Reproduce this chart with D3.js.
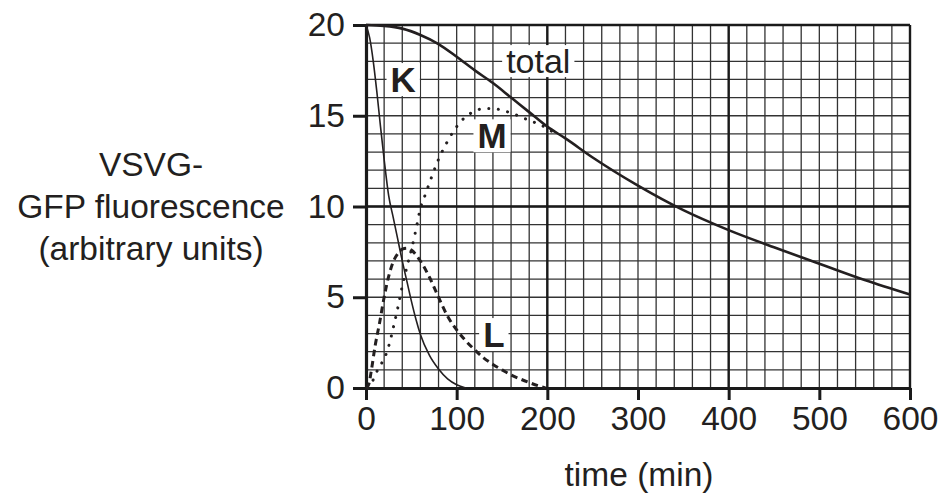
<!DOCTYPE html>
<meta charset="utf-8">
<style>
body { margin: 0; background: #fff; }
text { font-family: "Liberation Sans", Arial, sans-serif; fill: #231f20; }
.tick text { font-size: 33.5px; }
.label { font-weight: bold; font-size: 35px; }
</style>
<body>
<script src="https://cdn.jsdelivr.net/npm/d3@7"></script>
<script>

// values (time in min, fluorescence in arbitrary units)
var totalTime = [0, 20, 40, 60, 80, 100, 120, 140, 160, 180, 200, 220, 250, 300, 350, 400, 450, 500, 550, 600],
    totalVal  = [20, 19.95, 19.8, 19.45, 18.95, 18.25, 17.5, 16.8, 16.0, 15.2, 14.4, 13.75, 12.7, 11.15, 9.8, 8.7, 7.75, 6.85, 5.95, 5.15];

var kTime = [0, 4, 8, 12, 16, 20, 25, 30, 35, 40, 45, 50, 55, 60, 70, 80, 90, 100, 110],
    kVal  = [20, 19.3, 18.0, 16.3, 14.4, 12.6, 10.6, 9.4, 8.2, 7.0, 5.9, 4.8, 3.8, 2.95, 1.8, 1.05, 0.5, 0.18, 0];

var lTime = [0, 3, 6, 10, 15, 20, 25, 30, 35, 40, 45, 50, 55, 60, 70, 80, 90, 100, 110, 120, 130, 140, 150, 160, 170, 180, 190, 198],
    lVal  = [0, 0.2, 1.0, 2.3, 3.6, 5.0, 6.15, 6.95, 7.4, 7.65, 7.7, 7.6, 7.35, 7.0, 6.1, 5.0, 3.95, 3.2, 2.6, 2.1, 1.65, 1.3, 1.0, 0.72, 0.5, 0.3, 0.12, 0];

var mTime = [2, 5, 10, 15, 20, 25, 30, 35, 40, 45, 50, 55, 60, 65, 70, 80, 90, 100, 110, 120, 130, 140, 150, 160, 170, 180, 190, 200, 210],
    mVal  = [0, 0.15, 0.7, 1.2, 1.6, 2.3, 3.3, 4.4, 5.6, 6.65, 7.6, 8.7, 9.9, 10.6, 11.3, 12.6, 13.6, 14.4, 14.95, 15.25, 15.4, 15.4, 15.3, 15.15, 14.95, 14.75, 14.55, 14.3, 13.95];

var xTicks = [0, 100, 200, 300, 400, 500, 600],
    yTicks = [0, 5, 10, 15, 20],
    xMajor = [200, 400, 600],
    yMajor = [10, 20];

var curveLabels = [
  {text: "K", t: 41, v: 17.0},
  {text: "M", t: 139, v: 13.9},
  {text: "L", t: 141, v: 2.95}
];

var width = 944, height = 494;

var svg = d3.select("body").append("svg")
    .attr("width", width)
    .attr("height", height);

var x = d3.scaleLinear().domain([0, 600]).range([366, 910]),
    y = d3.scaleLinear().domain([0, 20]).range([388, 25]);

// minor grid
svg.append("g")
    .selectAll("line")
    .data(d3.range(20, 600, 20))
  .enter().append("line")
    .attr("x1", d => x(d)).attr("x2", d => x(d))
    .attr("y1", y(0)).attr("y2", y(20))
    .attr("stroke", "#333").attr("stroke-width", 1.3);

svg.append("g")
    .selectAll("line")
    .data(d3.range(1, 20, 1))
  .enter().append("line")
    .attr("x1", x(0)).attr("x2", x(600))
    .attr("y1", d => y(d)).attr("y2", d => y(d))
    .attr("stroke", "#333").attr("stroke-width", 1.3);

// major grid
svg.append("g")
    .selectAll("line")
    .data(xMajor)
  .enter().append("line")
    .attr("x1", d => x(d)).attr("x2", d => x(d))
    .attr("y1", y(0)).attr("y2", y(20))
    .attr("stroke", "#1a1a1a").attr("stroke-width", 2.4);

svg.append("g")
    .selectAll("line")
    .data(yMajor)
  .enter().append("line")
    .attr("x1", x(0)).attr("x2", x(600))
    .attr("y1", d => y(d)).attr("y2", d => y(d))
    .attr("stroke", "#1a1a1a").attr("stroke-width", 2.4);

// axes
var xAxis = d3.axisBottom(x).tickValues(xTicks).tickSize(12).tickPadding(6).tickSizeOuter(0);
var yAxis = d3.axisLeft(y).tickValues(yTicks).tickSize(13).tickPadding(8).tickSizeOuter(0);

var gx = svg.append("g")
    .attr("transform", "translate(0," + y(0) + ")")
    .call(xAxis);
var gy = svg.append("g")
    .attr("transform", "translate(" + x(0) + ",0)")
    .call(yAxis);

[gx, gy].forEach(function(g) {
  g.select(".domain").attr("stroke", "#1a1a1a").attr("stroke-width", 3.2);
  g.selectAll(".tick line").attr("stroke", "#1a1a1a").attr("stroke-width", 3);
  g.selectAll(".tick text").attr("fill", "#231f20").attr("font-family", null).attr("font-size", null);
});

// curves
var line = d3.line()
    .x(d => x(d[0]))
    .y(d => y(d[1]))
    .curve(d3.curveMonotoneX);

function pairs(ts, vs) { return ts.map((t, i) => [t, vs[i]]); }

svg.append("path")
    .attr("d", line(pairs(kTime, kVal)))
    .attr("fill", "none").attr("stroke", "#231f20").attr("stroke-width", 1.6);

svg.append("path")
    .attr("d", line(pairs(lTime, lVal)))
    .attr("fill", "none").attr("stroke", "#231f20").attr("stroke-width", 3)
    .attr("stroke-dasharray", "6.5 4.5");

svg.append("path")
    .attr("d", line(pairs(mTime, mVal)))
    .attr("fill", "none").attr("stroke", "#231f20").attr("stroke-width", 3)
    .attr("stroke-linecap", "round")
    .attr("stroke-dasharray", "0.1 9.5");

svg.append("path")
    .attr("d", line(pairs(totalTime, totalVal)))
    .attr("fill", "none").attr("stroke", "#231f20").attr("stroke-width", 2.6);

// "total" label with white box
var tot = svg.append("g");
var totText = tot.append("text")
    .attr("x", x(190))
    .attr("y", y(17.35))
    .attr("text-anchor", "middle")
    .attr("font-size", "34px")
    .text("total");
var bb = totText.node().getBBox();
tot.insert("rect", "text")
    .attr("x", bb.x - 4).attr("y", bb.y + 3)
    .attr("width", bb.width + 8).attr("height", bb.height - 6)
    .attr("fill", "#fff");

// curve letters
curveLabels.forEach(function(d) {
  var g = svg.append("g");
  var t = g.append("text")
      .attr("class", "label")
      .attr("x", x(d.t))
      .attr("y", y(d.v))
      .attr("text-anchor", "middle")
      .attr("dy", "0.36em")
      .text(d.text);
  var b = t.node().getBBox();
  g.insert("rect", "text")
      .attr("x", b.x - 4).attr("y", b.y + 3)
      .attr("width", b.width + 8).attr("height", b.height - 6)
      .attr("fill", "#fff");
});

// y title
var yTitle = ["VSVG-", "GFP fluorescence", "(arbitrary units)"];
svg.append("text")
    .attr("text-anchor", "middle")
    .attr("font-size", "33.5px")
    .selectAll("tspan")
    .data(yTitle)
  .enter().append("tspan")
    .attr("x", 151)
    .attr("y", (d, i) => 176 + i * 42)
    .text(d => d);

// x title
svg.append("text")
    .attr("x", 639)
    .attr("y", 486)
    .attr("text-anchor", "middle")
    .attr("font-size", "33.5px")
    .text("time (min)");

</script>
